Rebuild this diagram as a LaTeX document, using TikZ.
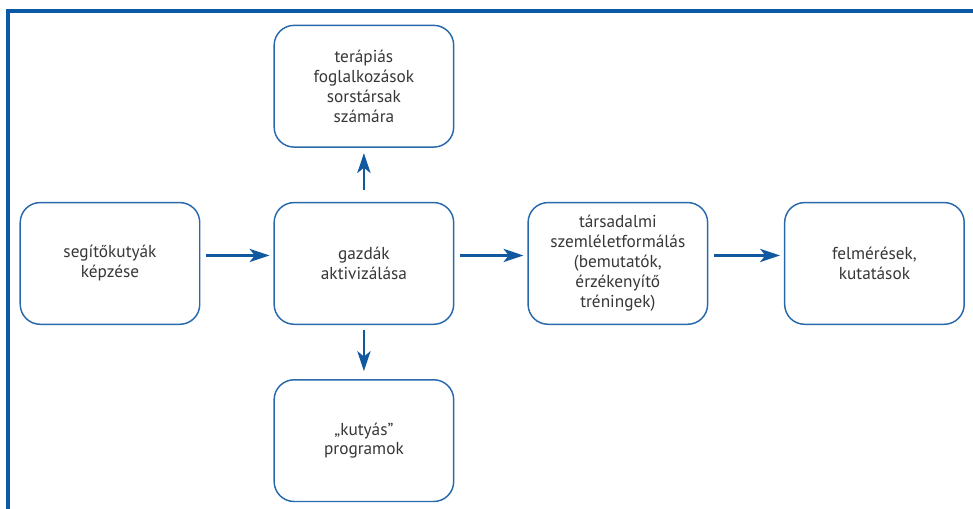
\documentclass[tikz,border=0pt]{standalone}
\usepackage{fontspec}
\setmainfont{PT Sans}
\usepackage{tikz}
\usetikzlibrary{arrows.meta, positioning}
\definecolor{framecol}{RGB}{12,90,165}
\definecolor{boxcol}{RGB}{40,105,172}
\definecolor{arrowcol}{RGB}{16,88,160}
\definecolor{textcol}{RGB}{55,55,55}

\begin{document}
\begin{tikzpicture}[
  stage/.style={rectangle, rounded corners=15pt, draw=boxcol, line width=1.1pt, fill=white,
    minimum width=4.75cm, minimum height=3.22cm, align=center, text=textcol,
    font=\fontsize{13}{15}\selectfont},
  arrow/.style={-{Stealth[length=15pt, width=10pt, inset=4pt]}, line width=1.6pt, draw=arrowcol},
  node distance=1.43cm and 1.93cm
]

% --- Rahmen ---
\clip (0,0) rectangle (25.744,-13.467);
\useasboundingbox (0,0) rectangle (25.744,-13.467);
\draw[framecol, line width=2.4pt] (0.212,-14) -- (0.212,-0.291) -- (26.5,-0.291);

% --- Hauptkette ---
\node[stage] (training) at (2.91,-6.97) {segítőkutyák\\ képzése};
\node[stage, right=of training] (owners) {gazdák\\ aktivizálása};
\node[stage, right=of owners] (society) {társadalmi\\ szemléletformálás\\ (bemutatók,\\ érzékenyítő\\ tréningek)};
\node[stage, right=2.0cm of society] (surveys) {felmérések,\\ kutatások};

% --- oben und unten ---
\node[stage, above=of owners] (therapy) {terápiás\\ foglalkozások\\ sorstársak\\ számára};
\node[stage, below=of owners] (programs) {„kutyás”\\ programok};

% Verbindungen
\draw[arrow, shorten <=4.5pt, shorten >=3pt] ([yshift=6pt]training.east) -- ([yshift=6pt]owners.west);
\draw[arrow, shorten <=4.5pt, shorten >=3pt] ([yshift=6pt]owners.east) -- ([yshift=6pt]society.west);
\draw[arrow, shorten <=4.5pt, shorten >=3pt] ([yshift=6pt]society.east) -- ([yshift=6pt]surveys.west);
\draw[arrow, shorten <=9pt, shorten >=4pt] (owners.north) -- (therapy.south);
\draw[arrow, shorten <=4pt, shorten >=6pt] (owners.south) -- (programs.north);
\end{tikzpicture}
\end{document}
